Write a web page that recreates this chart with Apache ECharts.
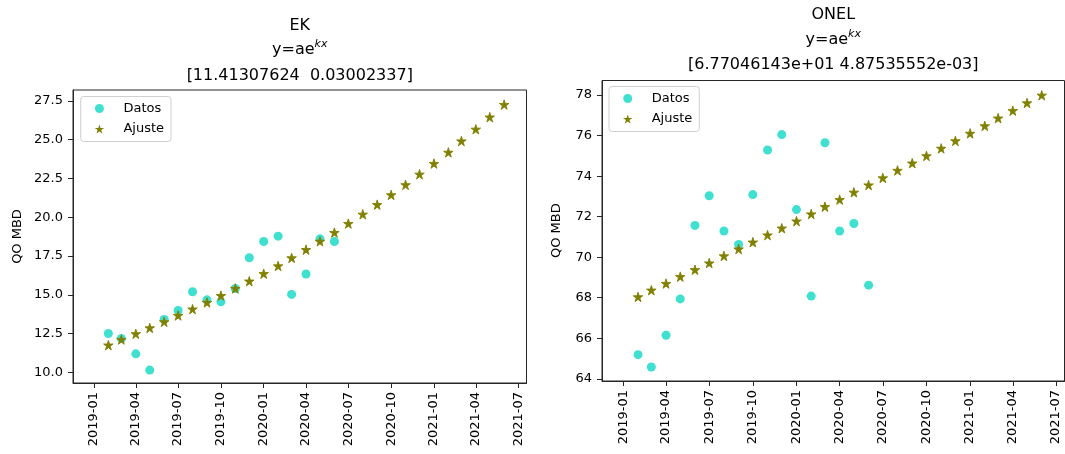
<!DOCTYPE html>
<html>
<head>
<meta charset="utf-8">
<script src="https://cdn.jsdelivr.net/npm/echarts@6/dist/echarts.min.js"></script>
<style>
html,body{margin:0;padding:0;background:#fff;}
#chart{width:1065px;height:454px;}
</style>
</head>
<body>
<div id="chart"></div>
<script>
const months = ['2019-02','2019-03','2019-04','2019-05','2019-06','2019-07','2019-08','2019-09','2019-10','2019-11','2019-12',
  '2020-01','2020-02','2020-03','2020-04','2020-05','2020-06','2020-07','2020-08','2020-09','2020-10','2020-11','2020-12',
  '2021-01','2021-02','2021-03','2021-04','2021-05','2021-06'];

const ekDatos = [12.51,12.19,11.20,10.15,13.41,13.99,15.20,14.68,14.55,15.41,17.39,18.44,18.78,15.03,16.34,18.61,18.44];
const ekAjuste = [11.76,12.12,12.49,12.87,13.26,13.67,14.08,14.51,14.95,15.41,15.88,16.36,16.86,17.38,17.91,18.45,19.01,
  19.59,20.19,20.81,21.44,22.09,22.77,23.46,24.18,24.91,25.67,26.45,27.26];

const onelDatos = [65.19,64.58,66.15,67.94,71.57,73.03,71.29,70.63,73.09,75.29,76.05,72.35,68.08,75.65,71.29,71.66,68.62];
const onelAjuste = [68.04,68.37,68.70,69.04,69.38,69.71,70.06,70.40,70.74,71.09,71.43,71.78,72.13,72.49,72.84,73.20,73.56,
  73.91,74.28,74.64,75.00,75.37,75.74,76.11,76.48,76.86,77.23,77.61,77.99];

const xTickLabels = ['2019-01','2019-04','2019-07','2019-10','2020-01','2020-04','2020-07','2020-10','2021-01','2021-04','2021-07'];
const ekYTicks = [10,12.5,15,17.5,20,22.5,25,27.5];
const onelYTicks = [64,66,68,70,72,74,76,78];

const titlesEK = ['EK', '[11.41307624  0.03002337]'];
const titlesONEL = ['ONEL', '[6.77046143e+01 4.87535552e-03]'];
const yName = 'QO MBD';

const FONT = 'DejaVu Sans';
const TXT = '#000';
const SPINE = '#262626';
const TURQ = '#40E0D0';
const OLIVE = '#808000';
const STAR = 'path://M100,0 L122.45,69.1 L195.1,69.1 L136.3,111.8 L158.8,180.9 L100,138.2 L41.2,180.9 L63.7,111.8 L4.9,69.1 L77.55,69.1 Z';

function ts(s) { return new Date(s + (s.length === 7 ? '-01' : '') + 'T00:00:00').getTime(); }
function pairs(vals) { return vals.map((v, i) => [ts(months[i]), v]); }
const xTickValues = xTickLabels.map(ts);
function fmtDate(v) {
  const i = xTickValues.indexOf(v);
  if (i >= 0) return xTickLabels[i];
  const d = new Date(v);
  const m = d.getMonth() + 1;
  return d.getFullYear() + '-' + (m < 10 ? '0' : '') + m;
}

const grids = [
  {left: 73, top: 90, width: 453.5, height: 293},
  {left: 602, top: 80.5, width: 462.5, height: 300.5}
];

function xAxis(gi) {
  return {
    type: 'value', gridIndex: gi,
    min: ts('2018-11-17'), max: ts('2021-07-19'),
    axisLine: {show: true, onZero: false, lineStyle: {color: SPINE, width: 1}},
    axisTick: {show: true, length: 5, lineStyle: {color: SPINE}, customValues: xTickValues},
    axisLabel: {rotate: 90, margin: 9, fontSize: 13, fontFamily: FONT, color: TXT,
      customValues: xTickValues, formatter: fmtDate, hideOverlap: false},
    splitLine: {show: false}
  };
}
function yAxis(gi, min, max, ticks, dec) {
  return {
    type: 'value', gridIndex: gi, min: min, max: max,
    axisLine: {show: true, onZero: false, lineStyle: {color: SPINE, width: 1}},
    axisTick: {show: true, length: 5, lineStyle: {color: SPINE}, customValues: ticks},
    axisLabel: {margin: 10, fontSize: 13, fontFamily: FONT, color: TXT, customValues: ticks,
      formatter: v => Number(v).toFixed(dec)},
    splitLine: {show: false}
  };
}
function legend(left, top) {
  return {
    left: left, top: top, orient: 'vertical', selectedMode: false,
    data: [{name: 'Datos', icon: 'circle'}, {name: 'Ajuste', icon: STAR}],
    itemWidth: 38, itemHeight: 9, itemGap: 5.5,
    itemStyle: {borderWidth: 0},
    padding: [4.5, 7, 5, 14],
    backgroundColor: 'rgba(255,255,255,0.8)', borderColor: '#d0d0d0', borderWidth: 1, borderRadius: 3,
    textStyle: {fontSize: 13, fontFamily: FONT, color: TXT, lineHeight: 15}
  };
}
function titleTexts(cx, y0, lines) {
  return [
    {type: 'text', x: cx, y: y0, style: {text: lines[0], fontSize: 16, fontFamily: FONT, fill: TXT, align: 'center', verticalAlign: 'middle'}},
    {type: 'text', x: cx, y: y0 + 24.5, style: {text: 'y=ae{sup|kx}', fontSize: 16, fontFamily: FONT, fill: TXT,
      align: 'center', verticalAlign: 'middle',
      rich: {sup: {fontSize: 11, fontStyle: 'italic', fontFamily: FONT, fill: TXT, padding: [0, 0, 11, 0]}}}},
    {type: 'text', x: cx, y: y0 + 50, style: {text: lines[1], fontSize: 16, fontFamily: FONT, fill: TXT, align: 'center', verticalAlign: 'middle'}}
  ];
}
function yNameText(x, y) {
  return {type: 'text', x: x, y: y, rotation: Math.PI / 2,
    style: {text: yName, fontSize: 13, fontFamily: FONT, fill: TXT, align: 'center', verticalAlign: 'middle'}};
}
function datosSeries(gi, vals) {
  return {name: 'Datos', type: 'scatter', xAxisIndex: gi, yAxisIndex: gi, data: pairs(vals),
    symbol: 'circle', symbolSize: 9, itemStyle: {color: TURQ, opacity: 1}};
}
function ajusteSeries(gi, vals) {
  return {name: 'Ajuste', type: 'scatter', xAxisIndex: gi, yAxisIndex: gi, data: pairs(vals),
    symbol: STAR, symbolSize: 9.5, itemStyle: {color: OLIVE, borderColor: OLIVE, borderWidth: 0.9, opacity: 1}};
}

const chart = echarts.init(document.getElementById('chart'), null, {renderer: 'canvas'});
chart.setOption({
  animation: false,
  backgroundColor: '#fff',
  grid: grids.map(g => Object.assign({show: true, borderColor: SPINE, borderWidth: 1, backgroundColor: 'transparent'}, g)),
  xAxis: [xAxis(0), xAxis(1)],
  yAxis: [yAxis(0, 9.32, 28.2, ekYTicks, 1), yAxis(1, 63.89, 78.72, onelYTicks, 0)],
  legend: [legend(80.7, 96.5), legend(609, 86.5)],
  graphic: [].concat(
    titleTexts(299.75, 25.5, titlesEK),
    titleTexts(833.25, 15, titlesONEL),
    [yNameText(17.5, 236.5), yNameText(557, 230.7)]
  ),
  series: [
    datosSeries(0, ekDatos), ajusteSeries(0, ekAjuste),
    datosSeries(1, onelDatos), ajusteSeries(1, onelAjuste)
  ]
});
</script>
</body>
</html>
